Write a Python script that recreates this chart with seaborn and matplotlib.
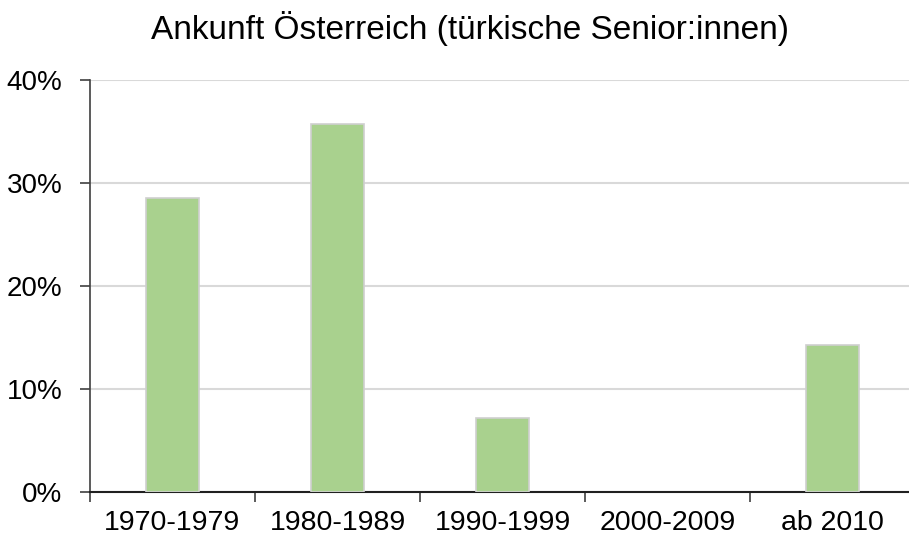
import numpy as np
import pandas as pd
import matplotlib
matplotlib.use('Agg')
import matplotlib.pyplot as plt
import seaborn as sns
from matplotlib.ticker import FixedLocator, PercentFormatter

# Data
periods = ['1970-1979', '1980-1989', '1990-1999', '2000-2009', 'ab 2010']
shares = [0.2857, 0.3571, 0.0714, 0.0, 0.1429]
yticks = [0.0, 0.1, 0.2, 0.3, 0.4]

df = pd.DataFrame({'period': periods, 'share': shares})

sns.set_style('white')
plt.rcParams['font.family'] = ['Liberation Sans', 'DejaVu Sans']
plt.rcParams['text.color'] = 'black'
plt.rcParams['xtick.color'] = 'black'
plt.rcParams['ytick.color'] = 'black'

fig = plt.figure(figsize=(9.09, 5.41), dpi=100)
ax = fig.add_axes([90 / 909, 1 - 492 / 541, 825 / 909, 412 / 541])

sns.barplot(data=df, x='period', y='share', color='#A9D18E', width=0.32,
            edgecolor='#CFCFCF', linewidth=1.2, saturation=1, ax=ax, zorder=3)
# empty categories get no outline
for p in ax.patches:
    if p.get_height() == 0:
        p.set_visible(False)

ax.set_xlim(-0.5, 4.5)
ax.set_ylim(0, 0.4)
ax.set_yticks(yticks)
ax.yaxis.set_major_formatter(PercentFormatter(1.0, decimals=0))
ax.yaxis.grid(True, color='#D9D9D9', linewidth=1.5, zorder=0)
ax.set_axisbelow(True)

# ticks at category boundaries, labels in the middle
ax.xaxis.set_major_locator(FixedLocator(np.arange(len(periods) + 1) - 0.5))
ax.xaxis.set_major_formatter(plt.NullFormatter())
ax.xaxis.set_minor_locator(FixedLocator(np.arange(len(periods))))
ax.set_xticklabels(periods, minor=True)
ax.tick_params(axis='x', which='major', direction='out', length=7, width=1.2, color='#404040', bottom=True)
ax.tick_params(axis='x', which='minor', length=0, pad=13, labelsize=20.5)
ax.tick_params(axis='y', direction='out', length=7, width=1.2, color='#404040', left=True, pad=13, labelsize=20)

ax.set_xlabel('')
ax.set_ylabel('')
for s in ['top', 'right']:
    ax.spines[s].set_visible(False)
ax.spines['left'].set_color('#404040')
ax.spines['left'].set_linewidth(1.2)
ax.spines['bottom'].set_color('#202020')
ax.spines['bottom'].set_linewidth(1.5)

fig.text(470 / 909, 1 - 29 / 541, 'Ankunft Österreich (türkische Senior:innen)',
         ha='center', va='center', fontsize=24)

fig.savefig('out.png', dpi=100)
